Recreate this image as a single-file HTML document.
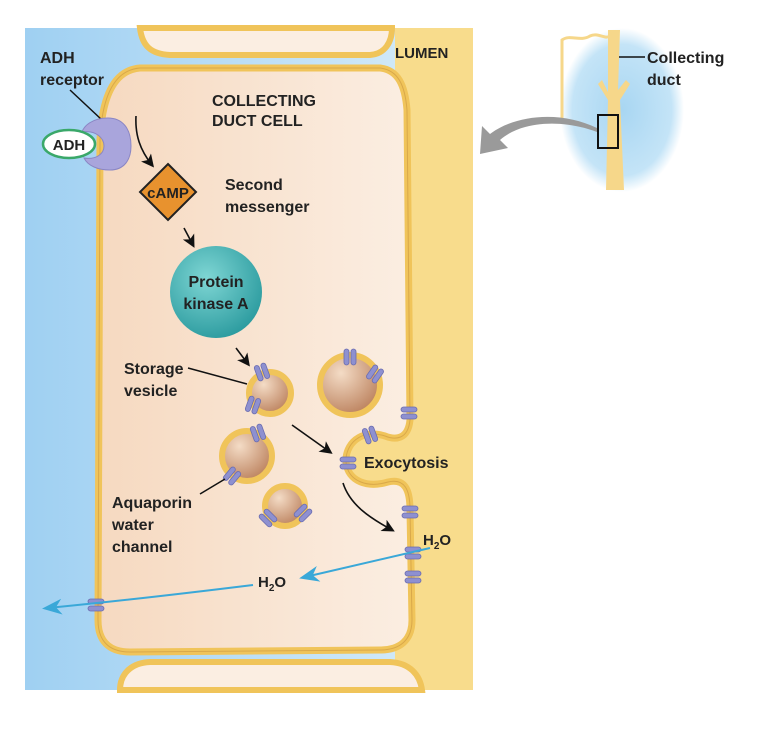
<!DOCTYPE html>
<html><head><meta charset="utf-8"><style>
html,body{margin:0;padding:0;background:#fff;}
svg{display:block;font-family:"Liberation Sans",Arial,sans-serif;font-weight:bold;}
</style></head><body>
<svg width="770" height="730" viewBox="0 0 770 730" xmlns="http://www.w3.org/2000/svg">
<defs>
<linearGradient id="bl" x1="0" x2="1" y1="0" y2="0"><stop offset="0" stop-color="#9fd0f2"/><stop offset="1" stop-color="#d9edf9"/></linearGradient>
<linearGradient id="cell" x1="0" x2="1" y1="0" y2="0"><stop offset="0" stop-color="#f6d9c0"/><stop offset="1" stop-color="#fbeee2"/></linearGradient>
<radialGradient id="ves" cx="0.35" cy="0.3" r="0.8"><stop offset="0" stop-color="#f4dcc6"/><stop offset="1" stop-color="#b77a55"/></radialGradient>
<radialGradient id="pk" cx="0.4" cy="0.35" r="0.7"><stop offset="0" stop-color="#7fd6d4"/><stop offset="1" stop-color="#2a9a9e"/></radialGradient>
<radialGradient id="ins" cx="0.5" cy="0.5" r="0.5"><stop offset="0" stop-color="#a8d6f2"/><stop offset="0.8" stop-color="#c4e4f7"/><stop offset="1" stop-color="#ffffff"/></radialGradient>
<marker id="ah" markerWidth="8" markerHeight="8" refX="6" refY="4" orient="auto"><path d="M0,0 L8,4 L0,8 L2,4z" fill="#111"/></marker>
<marker id="ab" markerWidth="10" markerHeight="8" refX="7" refY="4" orient="auto"><path d="M0,0 L10,4 L0,8 L3,4z" fill="#3aa8d8"/></marker>
<g id="aq"><rect x="-8" y="-6" width="16" height="5" rx="2.5" fill="#8e90d0" stroke="#6a6cb0" stroke-width="0.8"/><rect x="-8" y="1" width="16" height="5" rx="2.5" fill="#8e90d0" stroke="#6a6cb0" stroke-width="0.8"/></g>
</defs>
<!-- panel -->
<rect x="25" y="28" width="448" height="662" fill="url(#bl)"/>
<rect x="395" y="28" width="78" height="662" fill="#f8dc8c"/>
<rect x="335" y="420" width="80" height="80" fill="#f8dc8c"/>
<!-- top cell -->
<path d="M140,28 C142,45 150,54 170,55 L370,55 C385,54 392,42 392,28z" fill="#fbeee2" stroke="#f0c45a" stroke-width="6"/>
<!-- bottom cell -->
<path d="M120,690 C120,675 130,663 150,662 L390,662 C410,663 420,675 422,690z" fill="#fbeee2" stroke="#f0c45a" stroke-width="6"/>
<!-- main cell -->
<path d="M140,68 L380,68 C398,70 405,85 407,110 L410,420 C408,440 395,440 385,436 C360,428 345,445 346,462 C348,482 368,488 388,482 C405,478 410,490 410,510 L412,620 C412,640 400,650 380,650 L130,652 C108,652 98,640 98,620 L100,140 C102,95 115,70 140,68z" fill="url(#cell)" stroke="#f0c45a" stroke-width="7"/>
<path d="M140,68 L380,68 C398,70 405,85 407,110 L410,420 C408,440 395,440 385,436 C360,428 345,445 346,462 C348,482 368,488 388,482 C405,478 410,490 410,510 L412,620 C412,640 400,650 380,650 L130,652 C108,652 98,640 98,620 L100,140 C102,95 115,70 140,68z" fill="none" stroke="#d9a84a" stroke-width="1"/>
<!-- texts -->
<text x="40" y="63" font-size="16" fill="#222">ADH</text>
<text x="40" y="85" font-size="16" fill="#222">receptor</text>
<line x1="70" y1="90" x2="102" y2="120" stroke="#111" stroke-width="1.5"/>
<text x="395" y="58" font-size="15" fill="#222">LUMEN</text>
<text x="212" y="106" font-size="16" fill="#222">COLLECTING</text>
<text x="212" y="126" font-size="16" fill="#222">DUCT CELL</text>
<!-- receptor (crescent) -->
<path d="M108,118 C92,118 84,126 82,132 C96,130 104,138 104,146 C104,154 96,160 84,158 C88,166 98,170 110,170 C124,170 131,160 131,146 C131,128 122,118 108,118z" fill="#a9a5dc" stroke="#8a86c4"/>
<ellipse cx="69" cy="144" rx="26" ry="14" fill="#fff" stroke="#3aa86a" stroke-width="2.5"/>
<text x="69" y="150" font-size="15" fill="#222" text-anchor="middle">ADH</text>
<path d="M136,116 C135,135 140,150 152,165" fill="none" stroke="#111" stroke-width="1.6" marker-end="url(#ah)"/>
<!-- cAMP -->
<polygon points="168,164 196,192 168,220 140,192" fill="#e8922e" stroke="#222" stroke-width="2"/>
<text x="168" y="198" font-size="15" fill="#222" text-anchor="middle">cAMP</text>
<text x="225" y="190" font-size="16" fill="#222">Second</text>
<text x="225" y="212" font-size="16" fill="#222">messenger</text>
<line x1="184" y1="228" x2="193" y2="245" stroke="#111" stroke-width="1.6" marker-end="url(#ah)"/>
<!-- PKA -->
<circle cx="216" cy="292" r="46" fill="url(#pk)"/>
<text x="216" y="287" font-size="16" fill="#222" text-anchor="middle">Protein</text>
<text x="216" y="309" font-size="16" fill="#222" text-anchor="middle">kinase A</text>
<line x1="236" y1="348" x2="248" y2="364" stroke="#111" stroke-width="1.6" marker-end="url(#ah)"/>
<text x="124" y="374" font-size="16" fill="#222">Storage</text>
<text x="124" y="396" font-size="16" fill="#222">vesicle</text>
<line x1="188" y1="368" x2="247" y2="384" stroke="#111" stroke-width="1.5"/>
<!-- vesicles -->
<circle cx="270" cy="393" r="21" fill="url(#ves)" stroke="#f0c45a" stroke-width="6"/>
<circle cx="350" cy="385" r="30" fill="url(#ves)" stroke="#f0c45a" stroke-width="6"/>
<circle cx="247" cy="456" r="25" fill="url(#ves)" stroke="#f0c45a" stroke-width="6"/>
<circle cx="285" cy="506" r="20" fill="url(#ves)" stroke="#f0c45a" stroke-width="6"/>
<use href="#aq" transform="translate(262,372) rotate(70)"/>
<use href="#aq" transform="translate(253,405) rotate(110)"/>
<use href="#aq" transform="translate(350,357) rotate(90)"/>
<use href="#aq" transform="translate(375,374) rotate(-55)"/>
<use href="#aq" transform="translate(258,433) rotate(70)"/>
<use href="#aq" transform="translate(232,476) rotate(-50)"/>
<use href="#aq" transform="translate(268,518) rotate(45)"/>
<use href="#aq" transform="translate(303,513) rotate(-45)"/>
<use href="#aq" transform="translate(409,413)"/>
<use href="#aq" transform="translate(370,435) rotate(70)"/>
<use href="#aq" transform="translate(348,463)"/>
<use href="#aq" transform="translate(410,512)"/>
<use href="#aq" transform="translate(413,553)"/>
<use href="#aq" transform="translate(413,577)"/>
<use href="#aq" transform="translate(96,605)"/>
<text x="112" y="508" font-size="16" fill="#222">Aquaporin</text>
<text x="112" y="530" font-size="16" fill="#222">water</text>
<text x="112" y="552" font-size="16" fill="#222">channel</text>
<line x1="200" y1="494" x2="225" y2="479" stroke="#111" stroke-width="1.5"/>
<path d="M292,425 L330,452" stroke="#111" stroke-width="1.6" marker-end="url(#ah)"/>
<text x="364" y="468" font-size="16" fill="#222">Exocytosis</text>
<path d="M343,483 C350,505 370,518 392,530" fill="none" stroke="#111" stroke-width="1.6" marker-end="url(#ah)"/>
<!-- water -->
<text x="423" y="545" font-size="15" fill="#222">H<tspan font-size="10" dy="4">2</tspan><tspan dy="-4">O</tspan></text>
<text x="258" y="587" font-size="15" fill="#222">H<tspan font-size="10" dy="4">2</tspan><tspan dy="-4">O</tspan></text>
<line x1="430" y1="548" x2="305" y2="577" stroke="#3aa8d8" stroke-width="2" marker-end="url(#ab)"/>
<path d="M253,585 C180,594 110,602 48,608" fill="none" stroke="#3aa8d8" stroke-width="2" marker-end="url(#ab)"/>
<!-- inset -->
<ellipse cx="622" cy="110" rx="62" ry="82" fill="url(#ins)"/>
<path d="M608,30 L620,30 L618,90 L626,80 L630,84 L620,100 L624,190 L606,190 L608,100 L598,84 L602,80 L608,92z" fill="#f6d78a"/>
<path d="M562,120 L562,40 C570,34 580,42 590,36 C598,32 605,40 610,36" fill="none" stroke="#f6d78a" stroke-width="3"/>
<line x1="619" y1="57" x2="645" y2="57" stroke="#111" stroke-width="1.5"/>
<text x="647" y="63" font-size="16" fill="#222">Collecting</text>
<text x="647" y="85" font-size="16" fill="#222">duct</text>
<rect x="598" y="115" width="20" height="33" fill="none" stroke="#111" stroke-width="2"/>
<path d="M597,132 C560,118 520,122 500,140 L508,148 L480,154 L482,126 L490,134 C515,115 560,110 597,128z" fill="#9a9a9a"/>
</svg>
</body></html>
